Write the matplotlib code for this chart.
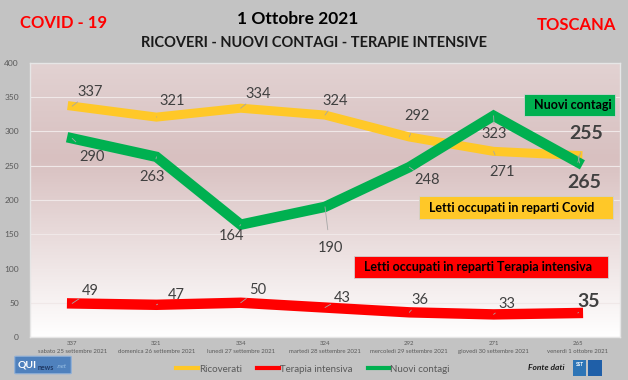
import numpy as np
import matplotlib
matplotlib.use('Agg')
from matplotlib import pyplot as plt
from matplotlib import font_manager
from matplotlib.colors import LinearSegmentedColormap
from matplotlib.patches import FancyBboxPatch

plt.rcParams['font.family'] = ['Lato', 'DejaVu Sans']

# data
giorni = ['sabato 25 settembre 2021', 'domenica 26 settembre 2021',
          'lunedì 27 settembre 2021', 'martedì 28 settembre 2021',
          'mercoledì 29 settembre 2021', 'giovedì 30 settembre 2021',
          'venerdì 1 ottobre 2021']
ricoverati = [337, 321, 334, 324, 292, 271, 265]
terapia = [49, 47, 50, 43, 36, 33, 35]
contagi = [290, 263, 164, 190, 248, 323, 255]

# label offsets in pixels (dx, dy) relative to each point
off_ric = [(18, 14), (16, 16), (17, 14), (10, 14), (8, 21), (9, -21), (6, -27)]
off_con = [(20, -19), (-4, -20), (-9, -11), (5, -41), (18, -13), (1, -18), (8, 29)]
off_ter = [(18, 12), (20, 10), (17, 13), (17, 10), (11, 12), (13, 10), (11, 12)]

yellow = '#ffc828'
red = '#ff0000'
green = '#00b050'
lab_col = '#404040'

# narrow font for the dates if there is one
names = set(f.name for f in font_manager.fontManager.ttflist)
if 'Liberation Sans Narrow' in names:
    tick_font, tick_size = 'Liberation Sans Narrow', 5.2
else:
    tick_font, tick_size = 'Lato', 4.3

fig = plt.figure(figsize=(6.28, 3.80), dpi=100)
fig.patch.set_facecolor('#c3c3c3')
ax = fig.add_axes([30/628, 43/380, 590/628, 274/380])

x = np.arange(len(giorni))

# gradient background
cmap = LinearSegmentedColormap.from_list('bg', [(0, '#ffffff'), (0.65, '#d8c0c0'), (1, '#e2d2d2')])
grad = np.linspace(0, 1, 256).reshape(-1, 1)
ax.imshow(grad, cmap=cmap, aspect='auto', extent=[-0.5, 6.5, 400, 0], zorder=0)

ax.set_xlim(-0.5, 6.5)
ax.set_ylim(0, 400)
ax.set_yticks(range(0, 401, 50))
ax.grid(axis='y', color='#f0e8e8', linewidth=0.8, zorder=1)
ax.set_axisbelow(True)
for s in ax.spines.values():
    s.set_color('#e6e6e6')
    s.set_linewidth(1.0)
ax.tick_params(length=0)
ax.tick_params(axis='y', labelsize=6, labelcolor='#595959', pad=8)
ax.set_xticks(x)
ax.set_xticklabels([str(v) + '\n' + g for v, g in zip(ricoverati, giorni)],
                   fontsize=tick_size, family=tick_font, color='#595959', linespacing=1.6)
ax.tick_params(axis='x', pad=3)

l1, = ax.plot(x, ricoverati, color=yellow, lw=6.5, solid_joinstyle='miter', zorder=3, label='Ricoverati')
l2, = ax.plot(x, terapia, color=red, lw=7.5, solid_joinstyle='miter', zorder=3, label='Terapia intensiva')
l3, = ax.plot(x, contagi, color=green, lw=7.5, solid_joinstyle='miter', zorder=4, label='Nuovi contagi')


def labels(vals, offs, big_last):
    for i, (v, (dx, dy)) in enumerate(zip(vals, offs)):
        big = big_last and i == len(vals) - 1
        ax.annotate(str(v), (x[i], v), xytext=(dx * 0.72, dy * 0.72), textcoords='offset points',
                    ha='center', va='center', color=lab_col,
                    fontsize=14 if big else 10.5, fontweight='bold' if big else 'normal',
                    arrowprops=dict(arrowstyle='-', color='#a6a6a6', lw=0.6,
                                    shrinkA=6, shrinkB=0),
                    zorder=6)


labels(ricoverati, off_ric, True)
labels(contagi, off_con, True)
labels(terapia, off_ter, True)

# boxes
def box(px, py, w, h, txt, col):
    fig.patches.append(plt.Rectangle((px/628, 1 - (py + h)/380), w/628, h/380,
                                     transform=fig.transFigure, facecolor=col,
                                     edgecolor='#d0d0d0', lw=0.6, zorder=7))
    fig.text((px + 10)/628, 1 - (py + h/2)/380, txt, ha='left', va='center',
             fontsize=9, fontweight='bold', color='black', zorder=8)


box(524, 94, 91, 22, 'Nuovi contagi', green)
box(419, 196, 194, 23, 'Letti occupati in reparti Covid', yellow)
box(354, 256, 254, 22, 'Letti occupati in reparti Terapia intensiva', red)

# titles
fig.text(298/628, 1 - 19/380, '1 Ottobre 2021', ha='center', va='center',
         fontsize=12.5, fontweight='bold', color='black')
fig.text(314/628, 1 - 43/380, 'RICOVERI - NUOVI CONTAGI - TERAPIE INTENSIVE', ha='center', va='center',
         fontsize=10.5, fontweight='bold', color='#1a1a1a')
fig.text(20/628, 1 - 23/380, 'COVID - 19', ha='left', va='center',
         fontsize=12, fontweight='bold', color='#ff0000')
fig.text(616/628, 1 - 25/380, 'TOSCANA', ha='right', va='center',
         fontsize=12, fontweight='bold', color='#ff0000')

# legend
fig.legend(handles=[l1, l2, l3], loc='center', bbox_to_anchor=(313/628, 1 - 369/380),
           ncol=3, frameon=False, fontsize=7, labelcolor='#595959',
           handlelength=2.2, handletextpad=0.1, columnspacing=1.6)
for h in fig.legends[0].legend_handles:
    h.set_linewidth(3)

# logos
fig.patches.append(FancyBboxPatch((16/628, 1 - 373/380), 54/628, 16/380,
                                  boxstyle='round,pad=0.002', transform=fig.transFigure,
                                  facecolor='#4f81bd', edgecolor='#8fb0d8', lw=0.8))
fig.text(18/628, 1 - 365/380, 'QUI', ha='left', va='center', fontsize=7.5,
         fontweight='bold', color='white')
fig.text(38/628, 1 - 367/380, 'news', ha='left', va='center', fontsize=5,
         fontweight='bold', color='#1f3864')
fig.text(57/628, 1 - 367/380, '.net', ha='left', va='center', fontsize=4.5,
         style='italic', color='#9dc3e6')
fig.text(565/628, 1 - 367/380, 'Fonte dati', ha='right', va='center', fontsize=6,
         style='italic', fontweight='bold', color='#1a1a1a')
fig.patches.append(plt.Rectangle((573/628, 1 - 376/380), 13/628, 16/380,
                                 transform=fig.transFigure, facecolor='#2e75b6'))
fig.patches.append(plt.Rectangle((588/628, 1 - 376/380), 14/628, 16/380,
                                 transform=fig.transFigure, facecolor='#1f5fa8'))
fig.text(579.5/628, 1 - 364/380, 'SST', ha='center', va='center', fontsize=3.5,
         color='white', fontweight='bold')

fig.savefig('out.png', dpi=100, facecolor=fig.get_facecolor())
